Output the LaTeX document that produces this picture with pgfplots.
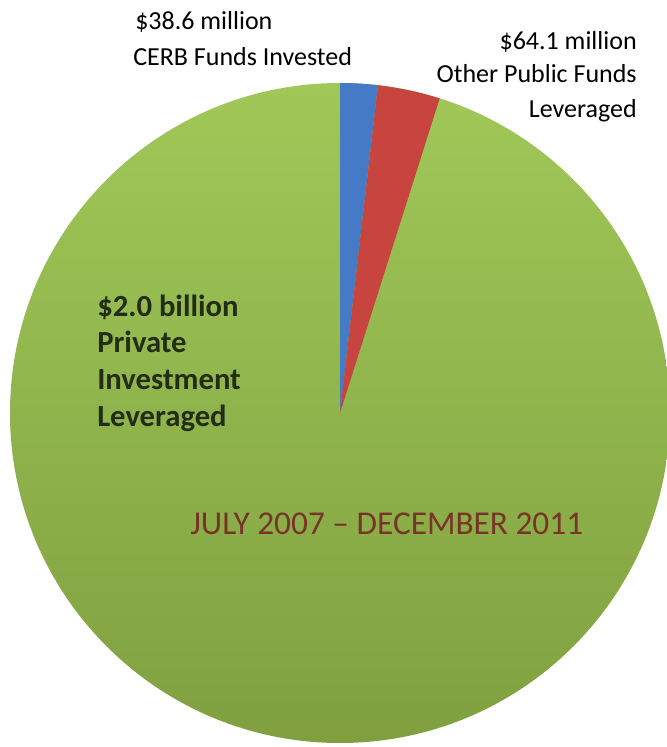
\documentclass[border=0pt]{standalone}
\usepackage{fontspec}
\setmainfont{Carlito}
\usepackage{pgfplots}
\usepackage{pgfplotstable}
\pgfplotsset{compat=1.18}

\definecolor{pgreenT}{RGB}{160,200,88}
\definecolor{pgreenB}{RGB}{128,160,64}
\definecolor{pblue}{RGB}{68,122,198}
\definecolor{pred}{RGB}{200,68,62}
\definecolor{innertxt}{RGB}{35,45,22}
\definecolor{datetxt}{RGB}{120,52,40}

% values in $ million
\pgfplotstableread{
label value
CERB 38.6
Other 64.1
Private 2000
}\piedata

\pgfplotstablegetelem{0}{value}\of\piedata \let\vA\pgfplotsretval
\pgfplotstablegetelem{1}{value}\of\piedata \let\vB\pgfplotsretval
\pgfplotstablegetelem{2}{value}\of\piedata \let\vC\pgfplotsretval
\pgfmathsetmacro\tot{\vA+\vB+\vC}
\pgfmathsetmacro\aA{90-360*(\vA/\tot)}
\pgfmathsetmacro\aB{\aA-360*(\vB/\tot)}

\begin{document}
\begin{tikzpicture}
\begin{axis}[
    scale only axis,
    width=500.25pt, height=560.25pt,
    xmin=0, xmax=667, ymin=0, ymax=747,
    hide axis,
  ]
  % pie: centre at (340,334), radius 330 px = 247.5pt
  \shade[top color=pgreenT, bottom color=pgreenB] (axis cs:340,334) circle[radius=247.5pt];
  \fill[pblue] (axis cs:340,334) -- ++(90:247.5pt) arc[start angle=90, end angle=\aA, radius=247.5pt] -- cycle;
  \fill[pred] (axis cs:340,334) -- ++(\aA:247.5pt) arc[start angle=\aA, end angle=\aB, radius=247.5pt] -- cycle;

  \node[anchor=base west, inner sep=0pt, font=\fontsize{19.5}{27}\selectfont] at (axis cs:135,717) {\$38.6 million};
  \node[anchor=base west, inner sep=0pt, font=\fontsize{19.5}{27}\selectfont] at (axis cs:133,681) {CERB Funds Invested};

  \node[anchor=base east, inner sep=0pt, font=\fontsize{19.5}{27}\selectfont] at (axis cs:637,697) {\$64.1 million};
  \node[anchor=base east, inner sep=0pt, font=\fontsize{19.5}{27}\selectfont] at (axis cs:637,664) {Other Public Funds};
  \node[anchor=base east, inner sep=0pt, font=\fontsize{19.5}{27}\selectfont] at (axis cs:637,629) {Leveraged};

  \node[anchor=base west, inner sep=0pt, text=innertxt, font=\bfseries\fontsize{23}{28}\selectfont] at (axis cs:97,430) {\$2.0 billion};
  \node[anchor=base west, inner sep=0pt, text=innertxt, font=\bfseries\fontsize{23}{28}\selectfont] at (axis cs:97,394) {Private};
  \node[anchor=base west, inner sep=0pt, text=innertxt, font=\bfseries\fontsize{23}{28}\selectfont] at (axis cs:97,357) {Investment};
  \node[anchor=base west, inner sep=0pt, text=innertxt, font=\bfseries\fontsize{23}{28}\selectfont] at (axis cs:97,320) {Leveraged};

  \node[anchor=base west, inner sep=0pt, text=datetxt, font=\fontsize{25}{30}\selectfont] at (axis cs:190,212) {JULY 2007 -- DECEMBER 2011};
\end{axis}
\pgfresetboundingbox
\path (current axis.south west) rectangle (current axis.north east);
\end{tikzpicture}
\end{document}
